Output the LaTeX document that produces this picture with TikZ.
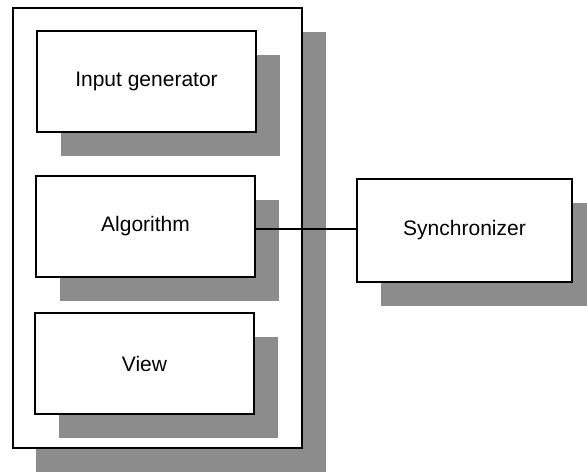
\documentclass[tikz,border=0pt]{standalone}
\usepackage{fontspec}
\setmainfont{Liberation Sans}
\usetikzlibrary{shadows}
\begin{document}
\begin{tikzpicture}[x=0.5pt,y=-0.5pt,
  shade/.style={drop shadow={shadow xshift=12pt,shadow yshift=-12pt,fill=black!45,opacity=1,draw=none}},
  box/.style={draw=black,line width=0.7pt,fill=white,shade,inner sep=0pt,
    font=\fontsize{10.5}{13}\selectfont},
  inner/.style={box,minimum width=109.5pt,minimum height=50.5pt},
  conn/.style={draw=black,line width=0.55pt}]
\clip (0,0) rectangle (587,474);
\useasboundingbox (0,0) rectangle (587,474);
\node[box,minimum width=144.5pt,minimum height=220pt,
  drop shadow={shadow xshift=11.5pt,shadow yshift=-12pt,fill=black!45,opacity=1,draw=none}] (outer) at (157.5,228) {};
\node[inner] (input) at (146.5,81.5) {Input generator};
\node[inner] (alg) at (145.5,226.5) {Algorithm};
\node[inner] (view) at (144.5,363.5) {View};
\node[box,minimum width=107.5pt,minimum height=51.5pt] (sync) at (464.5,230.5) {Synchronizer};
\draw[conn] ([yshift=-1.25pt]alg.east) -- ([yshift=-1.25pt]alg.east -| sync.west);
\end{tikzpicture}
\end{document}
